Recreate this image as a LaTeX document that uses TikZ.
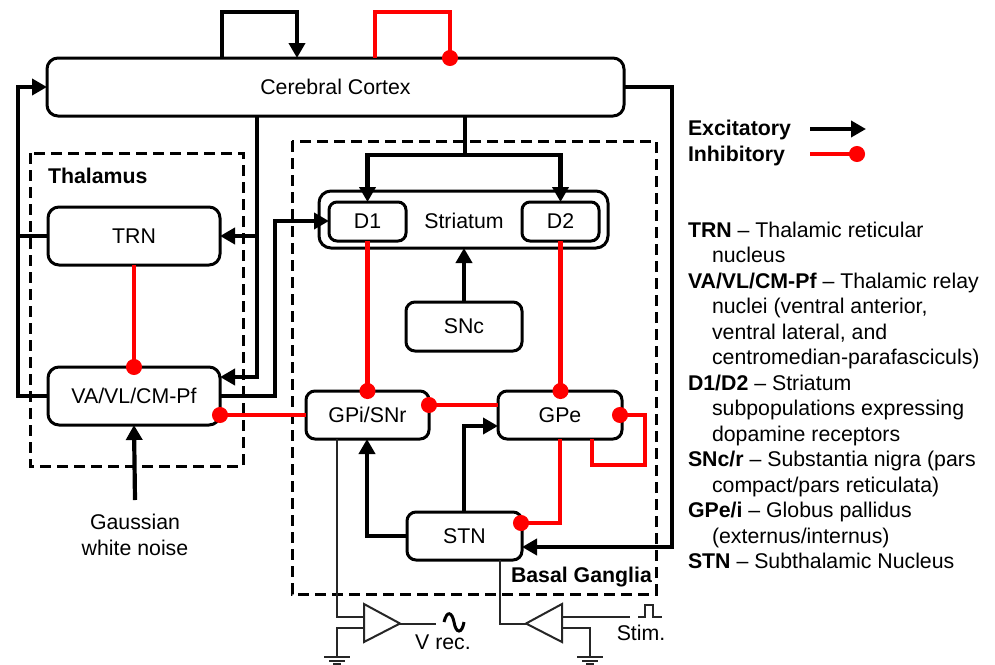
\documentclass[tikz,border=0pt]{standalone}
\usepackage{fontspec}
\setmainfont{Liberation Sans}
\usetikzlibrary{arrows.meta}
\tikzset{
  x=1pt,y=-1pt,
  every node/.style={font=\fontsize{21.3}{25.6}\selectfont,inner sep=0pt,outer sep=0pt},
  box/.style={draw=black,line width=3pt,fill=white,rounded corners=11pt,align=center},
  dashbox/.style={draw=black,line width=3pt,dash pattern=on 11pt off 6pt},
  exc/.style={draw=black,line width=4.2pt,-{Triangle[length=15pt,width=16pt]}},
  excp/.style={draw=black,line width=4.2pt},
  inh/.style={draw=red,line width=4.2pt,-{Circle[length=16pt,width=16pt]},shorten >=-8pt},
  inhp/.style={draw=red,line width=4.2pt},
  thin wire/.style={draw=black!85,line width=2pt},
  amp/.style={draw=black!85,line width=2pt,fill=white,line join=miter},
  title/.style={font=\fontsize{21.3}{25.6}\selectfont\bfseries},
}
\begin{document}
\begin{tikzpicture}
\useasboundingbox (0,0) rectangle (995,664);
% regions
\draw[dashbox] (30,153) rectangle (243,466);
\draw[dashbox] (292,141) rectangle (656,594);
\node[title,anchor=west] (thal) at (48,176) {Thalamus};
\node[title,anchor=west] (bg) at (511,577) {Basal Ganglia};
% nodes
\node[box,minimum width=577pt,minimum height=58pt] (cortex) at (335.5,87) {Cerebral Cortex};
\node[box,minimum width=172pt,minimum height=58pt] (trn) at (134,236) {TRN};
\node[box,minimum width=172pt,minimum height=58pt] (va) at (134,396) {VA/VL/CM-Pf};
\node[box,minimum width=289pt,minimum height=57pt,rounded corners=12pt] (str) at (463.5,219.5) {};
\node (strl) at (464,220.5) {Striatum};
\node[box,minimum width=77pt,minimum height=39pt,rounded corners=8pt] (d1) at (367.5,221.5) {D1};
\node[box,minimum width=77pt,minimum height=39pt,rounded corners=8pt] (d2) at (560.5,221.5) {D2};
\node[box,minimum width=116pt,minimum height=49pt,rounded corners=9pt] (snc) at (464,326.5) {SNc};
\node[box,minimum width=123pt,minimum height=48pt,rounded corners=9pt] (gpi) at (367.5,415) {GPi/SNr};
\node[box,minimum width=124pt,minimum height=48pt,rounded corners=9pt] (gpe) at (560,415) {GPe};
\node[box,minimum width=115pt,minimum height=48pt,rounded corners=9pt] (stn) at (464.5,536) {STN};
\node[align=center] (noise) at (135,535) {Gaussian\\white noise};
\coordinate (noisetop) at (135,500);
% cortex loops
\draw[exc] (222,0 |- cortex.north) -- (222,12) -- (297,12) -- (297,0 |- cortex.north);
\draw[inh] (375,0 |- cortex.north) -- (375,12) -- (450,12) -- (450,0 |- cortex.north);
% thalamus to cortex
\draw[exc] (va.west) -- (18,396) -- (18,87) -- (cortex.west);
\draw[excp] (trn.west) -- (18,236);
% cortex to thalamus
\draw[exc] (257,0 |- cortex.south) -- (257,377) -- (va.east |- 0,377);
\draw[exc] (257,236) -- (trn.east);
% VA to striatum
\draw[exc] (va.east) -- (275,396) -- (275,221) -- (d1.west |- 0,221);
% cortex to striatum
\draw[excp] (465,0 |- cortex.south) -- (465,155);
\draw[exc] (465,155) -- (367.5,155) -- (d1.north);
\draw[exc] (465,155) -- (560.5,155) -- (d2.north);
% cortex to STN
\draw[exc] (cortex.east) -- (672,87) -- (672,547) -- (stn.east |- 0,547);
% SNc
\draw[exc] (snc.north) -- (464,0 |- str.south);
% noise
\draw[exc] (noisetop) -- (va.south);
% red
\draw[inh] (134,0 |- trn.south) -- (134,0 |- va.north);
\draw[inh] (d1.south) -- (gpi.north);
\draw[inh] (d2.south) -- (d2.south |- gpe.north);
\draw[inh] (gpe.west |- 0,405) -- (gpi.east |- 0,405);
\draw[inh] (gpi.west) -- (va.east |- gpi.west);
\draw[inh] (560,0 |- gpe.south) -- (560,523) -- (521,523);
\draw[inh] (592,0 |- gpe.south) -- (592,465) -- (645,465) -- (645,415) -- (620,415);
% STN excitation
\draw[exc] (stn.west) -- (367,536) -- (367,0 |- gpi.south);
\draw[exc] (464,0 |- stn.north) -- (464,426) -- (gpe.west |- 0,426);
% recording
\coordinate (amp1in) at (364,617);
\coordinate (amp1ref) at (364,628);
\coordinate (gnd1) at (337,657);
\coordinate (amp2in) at (526,624);
\coordinate (amp2sig) at (562,617);
\coordinate (amp2ref) at (562,628);
\coordinate (gnd2) at (590,657);
\draw[thin wire] (337,0 |- gpi.south) -- (337,617) -- (amp1in);
\draw[thin wire] (amp1ref) -- (337,628) -- (gnd1);
\draw[thin wire] (500,0 |- stn.south) -- (500,624) -- (amp2in);
\draw[thin wire] (amp2sig) -- (630,617);
\draw[thin wire] (amp2ref) -- (590,628) -- (gnd2);
\draw[thin wire] (400,623.5) -- (436,623.5);
\draw[amp] (364,604) -- (364,642) -- (400,623.5) -- cycle;
\draw[amp] (562,604) -- (562,642) -- (526,623.5) -- cycle;
\draw[black,line width=3pt] (444,622) .. controls (447,610) and (452,612) .. (454,622) .. controls (456,634) and (462,634) .. (464,622);
\draw[thin wire] (638,617) -- (645,617) -- (645,605) -- (653,605) -- (653,617) -- (662,617);
\foreach \g in {gnd1,gnd2}{
  \draw[thin wire] ([xshift=-13pt]\g) -- ([xshift=13pt]\g);
  \draw[thin wire] ([xshift=-8pt,yshift=-4pt]\g) -- ([xshift=8pt,yshift=-4pt]\g);
  \draw[thin wire] ([xshift=-4pt,yshift=-7pt]\g) -- ([xshift=4pt,yshift=-7pt]\g);
}
\node (vrec) at (443,642) {V rec.};
\node (stim) at (641,633) {Stim.};
% legend
\node[title,anchor=west] (lexc) at (688,130) {Excitatory};
\node[title,anchor=west] (linh) at (688,156) {Inhibitory};
\coordinate (lexcs) at (810,129); \coordinate (lexce) at (866,129);
\coordinate (linhs) at (810,154); \coordinate (linhe) at (857,154);
\draw[exc] (lexcs) -- (lexce);
\draw[inh] (linhs) -- (linhe);
\node[anchor=north west,align=left,font=\fontsize{21.3}{25.5}\selectfont] (key) at (688,222) {%
\textbf{TRN} – Thalamic reticular\\
\hspace*{24pt}nucleus\\
\textbf{VA/VL/CM-Pf} – Thalamic relay\\
\hspace*{24pt}nuclei (ventral anterior,\\
\hspace*{24pt}ventral lateral, and\\
\hspace*{24pt}centromedian-parafasciculs)\\
\textbf{D1/D2} – Striatum\\
\hspace*{24pt}subpopulations expressing\\
\hspace*{24pt}dopamine receptors\\
\textbf{SNc/r} – Substantia nigra (pars\\
\hspace*{24pt}compact/pars reticulata)\\
\textbf{GPe/i} – Globus pallidus\\
\hspace*{24pt}(externus/internus)\\
\textbf{STN} – Subthalamic Nucleus};
\end{tikzpicture}
\end{document}
